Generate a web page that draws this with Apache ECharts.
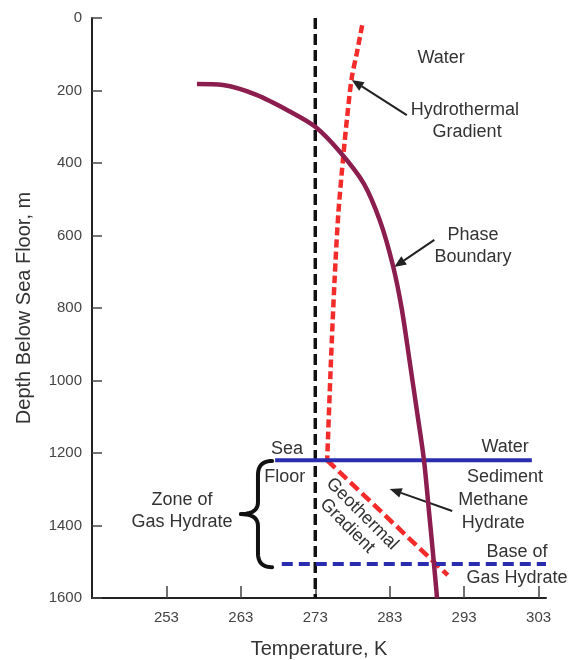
<!DOCTYPE html>
<html><head><meta charset="utf-8">
<script src="https://cdn.jsdelivr.net/npm/echarts@6/dist/echarts.min.js"></script>
<style>html,body{margin:0;padding:0;background:#fff}#c{width:571px;height:660px}</style>
</head><body><div id="c"></div>
<script>
// ---- data ----
const xTickValues = [253, 263, 273, 283, 293, 303];
const yTickValues = [0, 200, 400, 600, 800, 1000, 1200, 1400, 1600];
const freezingLine = [[273, 0], [273, 1600]];
const phaseBoundary = [[257.1, 182], [260.6, 185], [265.1, 212], [269.6, 258], [273.0, 300], [276.3, 369], [279.5, 456], [281.7, 560], [283.4, 680], [284.6, 800], [285.7, 950], [286.7, 1090], [287.6, 1219], [288.3, 1366], [288.9, 1495], [289.3, 1586], [289.35, 1600]];
const hydrothermalGradient = [[279.3, 20], [278.6, 95], [277.9, 165], [277.3, 270], [276.8, 373], [276.1, 539], [275.6, 720], [275.1, 950], [274.6, 1220]];
const geothermalGradient = [[274.6, 1220], [290.8, 1537]];
const seaFloorLine = [[267.6, 1220], [302.1, 1220]];
const baseOfHydrate = [[268.5, 1506], [304, 1506]];

// annotation text (data coords)
const labels = [
  ['Water', 289.9, 110], ['Hydrothermal', 293.1, 254], ['Gradient', 293.4, 314],
  ['Phase', 294.2, 599], ['Boundary', 294.2, 659],
  ['Sea', 269.2, 1189], ['Floor', 268.9, 1266],
  ['Water', 298.5, 1183], ['Sediment', 298.5, 1266],
  ['Methane', 296.9, 1330], ['Hydrate', 296.9, 1393],
  ['Base of', 300.1, 1473], ['Gas Hydrate', 300.1, 1545],
  ['Zone of', 255.1, 1330], ['Gas Hydrate', 255.1, 1390]
];
const rotatedLabels = [['Geothermal', 279.3, 1368], ['Gradient', 277.3, 1401]];
const arrows = [
  [[285.3, 268], [277.9, 171]],
  [[289.0, 612], [283.6, 687]],
  [[291.4, 1360], [283.0, 1299]]
];
const brace = { top: 1222, bottom: 1515, stem: 265.3, tip: 263.0, end: 267.2 };

const FONT = '"Liberation Sans", Arial, sans-serif';
const chart = echarts.init(document.getElementById('c'));
chart.setOption({
  animation: false,
  backgroundColor: '#fff',
  grid: { left: 92, right: 25, top: 18, bottom: 62, containLabel: false, outerBoundsMode: 'none' },
  xAxis: {
    type: 'value', min: 243, max: 304,
    name: 'Temperature, K', nameLocation: 'middle', nameGap: 41,
    nameTextStyle: { fontSize: 20, color: '#333', fontFamily: FONT },
    axisLine: { onZero: false, lineStyle: { color: '#222', width: 2 } },
    axisTick: { inside: true, length: 12, customValues: xTickValues, lineStyle: { color: '#444', width: 1.5 } },
    axisLabel: { customValues: xTickValues, fontSize: 15, color: '#444', margin: 12, fontFamily: FONT },
    splitLine: { show: false }
  },
  yAxis: {
    type: 'value', min: 0, max: 1600, interval: 200, inverse: true,
    name: 'Depth Below Sea Floor, m', nameLocation: 'middle', nameGap: 58,
    nameTextStyle: { fontSize: 20, color: '#333', fontFamily: FONT },
    axisLine: { onZero: false, lineStyle: { color: '#222', width: 2 } },
    axisTick: { inside: true, length: 10, lineStyle: { color: '#444', width: 1.5 } },
    axisLabel: { fontSize: 15, color: '#444', margin: 10, fontFamily: FONT, formatter: v => String(v) },
    splitLine: { show: false }
  },
  series: [
    { type: 'line', data: freezingLine, symbol: 'none',
      lineStyle: { color: '#111', width: 3.5, type: [11, 5] } },
    { type: 'line', data: hydrothermalGradient, symbol: 'none', smooth: 0.3,
      lineStyle: { color: '#f32b2b', width: 4.5, type: [8, 4] } },
    { type: 'line', data: geothermalGradient, symbol: 'none',
      lineStyle: { color: '#f32b2b', width: 4.5, type: [11, 5] } },
    { type: 'line', data: seaFloorLine, symbol: 'none',
      lineStyle: { color: '#2a2db0', width: 4 } },
    { type: 'line', data: baseOfHydrate, symbol: 'none',
      lineStyle: { color: '#2a2db0', width: 4, type: [11, 6] } },
    { type: 'line', data: phaseBoundary, symbol: 'none', smooth: 0.3,
      lineStyle: { color: '#8b1d4f', width: 4.5 } }
  ]
});

function px(t, d) { return chart.convertToPixel({ gridIndex: 0 }, [t, d]); }
const g = [];
labels.forEach(([s, t, d]) => {
  const p = px(t, d);
  g.push({ type: 'text', x: p[0], y: p[1], silent: true,
    style: { text: s, fill: '#333', font: '18px ' + FONT, align: 'center', verticalAlign: 'middle' } });
});
rotatedLabels.forEach(([s, t, d]) => {
  const p = px(t, d);
  g.push({ type: 'text', x: p[0], y: p[1], rotation: -45 * Math.PI / 180, silent: true,
    style: { text: s, fill: '#333', font: '18px ' + FONT, align: 'center', verticalAlign: 'middle' } });
});
arrows.forEach(([a, b]) => {
  const p0 = px(a[0], a[1]), p1 = px(b[0], b[1]);
  const dx = p1[0] - p0[0], dy = p1[1] - p0[1], L = Math.hypot(dx, dy);
  const ux = dx / L, uy = dy / L, hl = 12, hw = 5;
  const bx = p1[0] - ux * hl, by = p1[1] - uy * hl;
  g.push({ type: 'line', silent: true, shape: { x1: p0[0], y1: p0[1], x2: bx, y2: by },
    style: { stroke: '#222', lineWidth: 2 } });
  g.push({ type: 'polygon', silent: true,
    shape: { points: [[p1[0], p1[1]], [bx - uy * hw, by + ux * hw], [bx + uy * hw, by - ux * hw]] },
    style: { fill: '#222' } });
});
(function () {
  const t = px(brace.end, brace.top), b = px(brace.end, brace.bottom);
  const xs = px(brace.stem, 0)[0], xt = px(brace.tip, 0)[0], xe = t[0];
  const y0 = t[1], y1 = b[1], ym = (y0 + y1) / 2;
  const pts = [];
  function quad(p0, c, p1) {
    for (let i = 0; i <= 12; i++) {
      const s = i / 12, a = (1 - s) * (1 - s), m = 2 * (1 - s) * s, e = s * s;
      pts.push([a * p0[0] + m * c[0] + e * p1[0], a * p0[1] + m * c[1] + e * p1[1]]);
    }
  }
  quad([xe, y0], [xs, y0], [xs, y0 + 14]);
  quad([xs, ym - 12], [xs, ym], [xt, ym]);
  quad([xt, ym], [xs, ym], [xs, ym + 12]);
  quad([xs, y1 - 14], [xs, y1], [xe, y1]);
  g.push({ type: 'polyline', silent: true, shape: { points: pts },
    style: { stroke: '#111', lineWidth: 4, fill: null, lineJoin: 'round', lineCap: 'round' } });
})();
chart.setOption({ graphic: g });
</script>
</body></html>
